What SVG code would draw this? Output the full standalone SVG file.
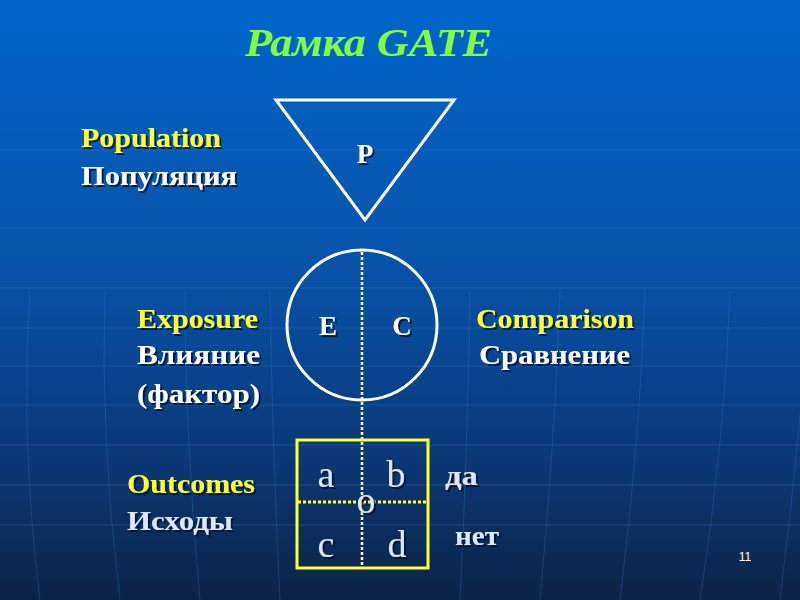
<svg xmlns="http://www.w3.org/2000/svg" width="800" height="600" viewBox="0 0 800 600">
  <defs>
    <linearGradient id="bg" x1="0" y1="0" x2="0" y2="1">
      <stop offset="0" stop-color="#0066cc"/>
      <stop offset="0.45" stop-color="#0852a8"/>
      <stop offset="0.75" stop-color="#0a3a78"/>
      <stop offset="1" stop-color="#0a2448"/>
    </linearGradient>
    <filter id="sh" x="-10%" y="-10%" width="130%" height="140%">
      <feDropShadow dx="2" dy="2" stdDeviation="0.6" flood-color="#001030" flood-opacity="0.8"/>
    </filter>
    <style>
      .lbl { font-family: "Liberation Serif", "Times New Roman", serif; font-weight: bold; font-size: 27px; }
      .y { fill: #ffff33; }
      .w { fill: #ffffff; }
      .lb { fill: #dde8f5; }
      .cell { font-family: "Liberation Serif", "Times New Roman", serif; font-size: 38px; fill: #dde8f5; text-anchor: middle; }
      .grid { stroke: #3a7ad0; stroke-width: 1; fill: none; opacity: 0.3; }
    </style>
  </defs>

  <rect x="0" y="0" width="800" height="600" fill="url(#bg)"/>

  <g id="grid-lines">
    <path class="grid" d="M0 150 H800 M0 228 H800 M0 288 H800 M0 328 H800 M0 366 H800 M0 405 H800 M0 445 H800 M0 485 H800 M0 525 H800"/>
    <path class="grid" d="M40 600 Q20 440 30 290 M120 600 Q100 440 105 290 M200 600 Q185 440 185 290 M280 600 Q272 440 270 290 M460 600 Q468 440 470 290 M540 600 Q555 440 560 290 M620 600 Q640 440 645 290 M700 600 Q725 440 730 290 M780 600 Q800 440 810 290"/>
  </g>

  <g id="title">
    <text x="245" y="56" textLength="247" lengthAdjust="spacingAndGlyphs" font-family="Liberation Serif, Times New Roman, serif" font-weight="bold" font-style="italic" font-size="40" fill="#80ff40">Рамка GATE</text>
  </g>

  <g id="connectors">
    <line x1="362" y1="252" x2="362" y2="568" stroke="#ffffff" stroke-width="2.5" stroke-dasharray="3 2"/>
    <line x1="298" y1="502" x2="428" y2="502" stroke="#ffff33" stroke-width="3" stroke-dasharray="3 2"/>
  </g>

  <g id="population-node">
    <polygon points="276,100 454,100 365,220" fill="none" stroke="#ffffff" stroke-width="3"/>
    <text x="365" y="163" text-anchor="middle" class="lbl w" filter="url(#sh)">P</text>
  </g>

  <g id="population-label" filter="url(#sh)">
    <text x="81" y="147" class="lbl y" textLength="140" lengthAdjust="spacingAndGlyphs">Population</text>
    <text x="81" y="185" class="lbl w" textLength="156" lengthAdjust="spacingAndGlyphs">Популяция</text>
  </g>

  <g id="ec-node">
    <circle cx="362" cy="325" r="75" fill="none" stroke="#ffffff" stroke-width="3"/>
    <text x="328" y="335" text-anchor="middle" class="lbl w" filter="url(#sh)">E</text>
    <text x="402" y="335" text-anchor="middle" class="lbl w" filter="url(#sh)">C</text>
  </g>

  <g id="exposure-label" filter="url(#sh)">
    <text x="137" y="328" class="lbl y" textLength="121" lengthAdjust="spacingAndGlyphs">Exposure</text>
    <text x="137" y="364" class="lbl w" textLength="123" lengthAdjust="spacingAndGlyphs">Влияние</text>
    <text x="137" y="403" class="lbl w" textLength="123" lengthAdjust="spacingAndGlyphs">(фактор)</text>
  </g>

  <g id="comparison-label" filter="url(#sh)">
    <text x="476" y="328" class="lbl y" textLength="158" lengthAdjust="spacingAndGlyphs">Comparison</text>
    <text x="479" y="364" class="lbl w" textLength="151" lengthAdjust="spacingAndGlyphs">Сравнение</text>
  </g>

  <g id="outcome-node">
    <rect x="297" y="440" width="131" height="128" fill="none" stroke="#ffff33" stroke-width="3"/>
    <g filter="url(#sh)">
      <text x="326" y="487" class="cell">a</text>
      <text x="396" y="487" class="cell">b</text>
      <text x="326" y="557" class="cell">c</text>
      <text x="397" y="557" class="cell">d</text>
      <text x="366" y="513" class="cell" font-size="40">o</text>
    </g>
  </g>

  <g id="outcomes-label" filter="url(#sh)">
    <text x="127" y="493" class="lbl y" textLength="128" lengthAdjust="spacingAndGlyphs">Outcomes</text>
    <text x="127" y="530" class="lbl lb" textLength="106" lengthAdjust="spacingAndGlyphs">Исходы</text>
    <text x="445" y="485" class="lbl lb" textLength="33" lengthAdjust="spacingAndGlyphs">да</text>
    <text x="455" y="545" class="lbl lb" textLength="44" lengthAdjust="spacingAndGlyphs">нет</text>
  </g>

  <g id="page-number">
    <text x="745" y="561" text-anchor="middle" font-family="Liberation Sans, Arial, sans-serif" font-size="12" fill="#ffffff">11</text>
  </g>
</svg>
